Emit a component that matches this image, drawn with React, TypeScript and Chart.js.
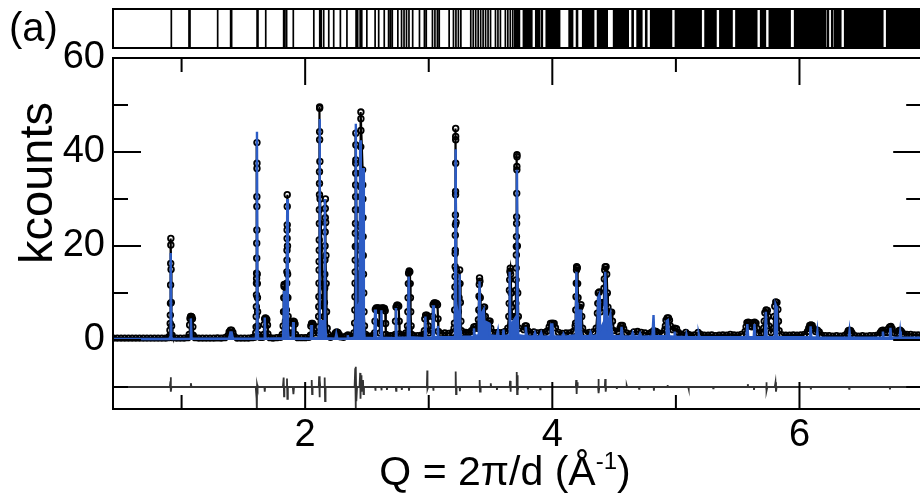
import React, { useEffect, useRef } from "react";
import { Chart, registerables } from "chart.js";

Chart.register(...registerables);

// ---- axes ----
const X_MIN = 0.445;
const X_MAX = 6.985;
const Y_MIN = -14.68;
const Y_MAX = 60;
const yMajorTicks = [0, 20, 40, 60];
const yMinorTicks = [-10, 10, 30, 50];
const xMajorTicks = [2, 4, 6];
const xMinorTicks = [1, 3, 5, 7];

// ---- observed intensities (Q in 1/Å, kcounts) ----
const observed: number[][] = [
  [0.45, 0.4], [0.48, 0.4], [0.51, 0.4], [0.54, 0.4], [0.57, 0.4], [0.6, 0.4], [0.63, 0.4], [0.66, 0.4], [0.69, 0.4], [0.72, 0.4], [0.75, 0.4], [0.78, 0.4], [0.81, 0.4], [0.84, 0.4], [0.87, 0.4], [0.895, 0.5],
  [0.902, 0.8], [0.906, 2.1], [0.908, 3.5], [0.909, 5.3], [0.91, 7.8], [0.911, 11.7], [0.912, 16.3], [0.913, 20.2], [0.913, 21.6], [0.915, 15], [0.917, 8], [0.919, 3], [0.923, 1],
  [0.93, 0.5], [0.96, 0.4], [0.99, 0.4], [1.02, 0.4], [1.05, 0.5],
  [1.062, 1.2], [1.065, 3.2], [1.068, 4.6], [1.073, 5.0], [1.078, 5.0], [1.083, 4.9], [1.088, 4.5], [1.091, 2.8], [1.094, 1.0],
  [1.11, 0.5], [1.14, 0.4], [1.17, 0.4], [1.2, 0.4], [1.23, 0.4], [1.26, 0.4], [1.29, 0.45], [1.32, 0.4], [1.35, 0.5],
  [1.375, 0.9], [1.385, 1.7], [1.395, 2.1], [1.405, 2.1], [1.415, 1.6], [1.425, 0.8],
  [1.45, 0.4], [1.48, 0.4], [1.51, 0.4], [1.54, 0.4], [1.57, 0.5], [1.59, 0.6],
  [1.6, 1.5], [1.603, 2.8], [1.604, 5.0], [1.605, 7.1], [1.606, 9.6], [1.606, 12.1], [1.607, 13.1], [1.607, 14.2], [1.608, 17.4], [1.608, 20.6], [1.609, 23.4], [1.609, 28.4], [1.609, 30.5], [1.61, 36.5], [1.61, 37.6], [1.61, 42.0], [1.612, 14], [1.613, 12], [1.614, 9], [1.615, 6], [1.617, 3], [1.62, 1.2],
  [1.635, 0.6], [1.655, 0.6],
  [1.665, 1.2], [1.668, 3.3], [1.672, 4.5], [1.678, 4.7], [1.684, 4.6], [1.69, 4.3], [1.695, 3.2], [1.698, 1.3],
  [1.715, 0.5], [1.74, 0.4], [1.77, 0.5], [1.8, 0.6], [1.815, 1.2],
  [1.822, 3], [1.825, 6], [1.827, 9], [1.829, 11.4], [1.83, 11.8], [1.833, 9], [1.836, 6], [1.84, 4],
  [1.848, 6.4], [1.85, 9.2], [1.851, 12.1], [1.852, 14.5], [1.853, 17.0], [1.853, 19.1], [1.854, 21.6], [1.854, 23.4], [1.855, 24.5], [1.855, 28.4], [1.855, 30.9], [1.857, 20], [1.858, 14], [1.86, 9], [1.862, 5], [1.865, 3.6], [1.87, 1.5],
  [1.895, 1.5], [1.899, 3.5], [1.905, 4.0], [1.912, 3.9], [1.918, 3.4], [1.922, 1.2],
  [1.94, 0.5], [1.97, 0.5], [2.0, 0.5], [2.03, 0.6],
  [2.043, 1.0], [2.046, 3.0], [2.052, 3.5], [2.06, 3.5], [2.066, 3.2], [2.07, 1.5],
  [2.105, 1.5], [2.108, 2.8], [2.109, 5.0], [2.11, 7.1], [2.111, 9.2], [2.112, 12.1], [2.113, 14.9], [2.113, 16.7], [2.114, 19.1], [2.114, 21.3], [2.115, 24.8], [2.115, 27.7], [2.116, 30.9], [2.116, 33.3], [2.116, 35.8], [2.117, 42.6], [2.117, 44.3], [2.117, 49.3], [2.117, 49.6], [2.119, 38], [2.121, 30],
  [2.15, 2], [2.154, 5], [2.156, 8], [2.158, 11], [2.159, 14], [2.16, 17], [2.161, 20], [2.162, 23], [2.163, 26], [2.163, 28], [2.164, 30], [2.166, 25], [2.168, 18], [2.17, 12], [2.173, 6], [2.178, 2.5], [2.188, 1.2],
  [2.205, 0.6], [2.23, 0.8],
  [2.24, 1.0], [2.245, 1.5], [2.255, 1.7], [2.265, 1.6], [2.275, 1.2], [2.285, 0.7],
  [2.31, 0.6], [2.33, 0.8], [2.346, 1.1], [2.36, 0.8], [2.38, 0.8], [2.395, 1.5],
  [2.4, 3.6], [2.402, 6.4], [2.403, 9.2], [2.404, 12.1], [2.405, 14.5], [2.405, 17.0], [2.406, 19.9], [2.406, 22.7], [2.407, 24.8], [2.407, 27.7], [2.408, 30.5], [2.408, 33.0], [2.409, 35.5], [2.409, 37.6], [2.41, 38.3], [2.41, 41.5], [2.41, 44.0],
  [2.418, 20], [2.424, 12], [2.43, 8], [2.436, 10], [2.441, 14],
  [2.445, 7.8], [2.446, 10.6], [2.446, 13.5], [2.447, 16.3], [2.447, 19.1], [2.448, 22.0], [2.448, 24.1], [2.449, 27.7], [2.449, 30.5], [2.45, 32.6], [2.45, 35.5], [2.45, 41.1], [2.451, 44.6], [2.451, 47.1], [2.451, 48.5],
  [2.465, 36.2], [2.466, 33], [2.467, 30], [2.468, 26], [2.469, 22], [2.47, 18], [2.472, 14], [2.474, 10], [2.476, 6], [2.48, 3], [2.49, 1.2],
  [2.5, 0.8], [2.52, 0.8], [2.545, 0.9],
  [2.562, 1.5], [2.565, 4], [2.568, 6.5], [2.575, 6.8], [2.585, 6.8], [2.595, 6.8], [2.6, 6.3], [2.603, 3.5], [2.606, 1.5], [2.612, 3.5], [2.615, 6.5], [2.622, 6.8], [2.632, 6.8], [2.642, 6.7], [2.648, 6.2], [2.651, 3.5], [2.654, 1.2],
  [2.67, 0.8], [2.69, 0.9], [2.71, 0.9],
  [2.728, 1.2], [2.731, 4], [2.735, 7], [2.742, 7.4], [2.75, 7.4], [2.757, 7.2], [2.761, 4], [2.764, 1.3],
  [2.78, 1.0], [2.8, 1.0], [2.815, 1.5],
  [2.828, 3], [2.831, 6], [2.833, 9], [2.835, 12], [2.837, 14.2], [2.842, 14.7], [2.847, 14.5], [2.85, 12], [2.852, 9], [2.854, 6], [2.857, 3], [2.862, 1.2],
  [2.88, 0.9], [2.91, 0.9], [2.94, 1.0], [2.96, 1.2],
  [2.965, 2], [2.968, 4.5], [2.975, 5.3], [2.985, 5.3], [2.993, 5.0], [2.997, 3], [3.0, 1.5],
  [3.028, 2], [3.031, 5], [3.035, 7.5], [3.043, 7.9], [3.053, 7.9], [3.063, 7.8], [3.071, 7.5], [3.075, 4.5], [3.078, 1.8],
  [3.1, 1.4], [3.13, 1.5], [3.16, 1.4], [3.19, 1.6], [3.205, 2.5],
  [3.208, 3.6], [3.21, 6.4], [3.211, 9.2], [3.212, 11.3], [3.213, 13.5], [3.214, 15.6], [3.214, 18.4], [3.215, 19.1], [3.215, 22.3], [3.216, 24.5], [3.216, 26.6], [3.217, 30.9], [3.217, 31.6], [3.218, 37.6], [3.218, 42.6], [3.218, 43.3], [3.218, 45.0], [3.221, 25], [3.223, 15],
  [3.24, 6], [3.245, 9], [3.248, 12], [3.25, 14.9], [3.253, 12], [3.256, 8], [3.26, 4], [3.265, 2],
  [3.28, 1.5], [3.3, 1.6], [3.32, 1.5], [3.34, 1.8],
  [3.355, 2.2], [3.365, 2.8], [3.38, 2.9], [3.392, 2.5],
  [3.402, 4.3], [3.405, 6.4], [3.407, 9.3], [3.409, 11.8], [3.411, 13.2], [3.414, 12.5], [3.417, 9], [3.42, 6],
  [3.44, 5], [3.445, 7], [3.452, 7], [3.458, 5], [3.465, 3],
  [3.482, 3], [3.488, 4], [3.496, 4], [3.502, 2.5],
  [3.52, 1.6], [3.54, 1.5], [3.56, 1.6], [3.58, 1.5], [3.6, 1.6], [3.62, 1.8], [3.64, 2.5],
  [3.648, 5.0], [3.651, 7.8], [3.653, 10.6], [3.655, 12.8], [3.657, 14.6], [3.66, 15.3], [3.663, 14], [3.667, 10], [3.67, 7], [3.675, 5],
  [3.703, 5.0], [3.705, 7.8], [3.706, 10.6], [3.707, 12.8], [3.708, 15.3], [3.709, 18.1], [3.709, 19.9], [3.71, 22.0], [3.711, 24.8], [3.711, 26.2], [3.712, 31.2], [3.713, 36.2], [3.713, 36.9], [3.714, 39.0], [3.714, 39.4], [3.717, 20], [3.72, 10], [3.725, 5], [3.73, 2.5],
  [3.77, 2.2], [3.78, 3], [3.79, 3], [3.8, 2],
  [3.82, 1.6], [3.85, 1.7], [3.88, 1.5], [3.91, 1.6], [3.94, 1.6], [3.96, 1.9],
  [3.975, 2.8], [3.985, 3.5], [4.0, 3.6], [4.015, 3.5], [4.025, 2.6],
  [4.05, 1.6], [4.08, 1.4], [4.11, 1.5], [4.14, 1.5], [4.17, 1.8], [4.185, 3],
  [4.188, 3.6], [4.19, 6.4], [4.192, 9.2], [4.194, 12.1], [4.196, 14.9], [4.197, 15.6], [4.199, 15.5], [4.202, 15.3], [4.205, 12], [4.208, 9],
  [4.22, 5], [4.225, 7], [4.232, 7.5], [4.238, 5], [4.245, 2.5],
  [4.27, 1.5], [4.3, 1.6], [4.33, 1.7], [4.355, 2.5],
  [4.365, 5.7], [4.368, 7.8], [4.372, 10], [4.38, 10.2], [4.386, 8], [4.39, 6],
  [4.414, 8], [4.418, 11], [4.421, 13], [4.424, 14.9], [4.428, 15.6], [4.435, 15.6], [4.44, 14], [4.445, 10], [4.45, 7],
  [4.465, 5], [4.47, 5.9], [4.48, 5.9], [4.487, 4],
  [4.5, 2], [4.53, 1.8],
  [4.548, 2.5], [4.555, 3.1], [4.568, 3.1], [4.577, 2.4],
  [4.6, 1.5], [4.63, 1.3], [4.66, 1.7], [4.69, 1.8], [4.72, 1.6], [4.75, 1.5], [4.78, 1.3], [4.8, 1.6], [4.82, 2.0], [4.84, 1.8], [4.86, 1.5], [4.89, 1.4], [4.91, 2.2],
  [4.915, 3], [4.92, 4.2], [4.93, 4.7], [4.94, 4.7], [4.948, 4.2], [4.955, 3],
  [4.975, 2.2], [4.99, 2.5], [5.005, 2.4], [5.02, 1.6],
  [5.04, 1.2], [5.06, 1.1], [5.08, 1.6], [5.1, 1.2], [5.12, 1.0], [5.15, 1.1], [5.18, 1.6], [5.2, 1.2], [5.23, 1.0], [5.26, 1.0], [5.29, 1.1], [5.32, 0.9], [5.35, 1.0], [5.38, 1.1], [5.41, 1.0], [5.44, 1.2], [5.47, 1.1], [5.5, 1.0], [5.53, 1.2], [5.56, 1.8],
  [5.568, 2.8], [5.575, 3.7], [5.585, 3.8], [5.595, 3.7], [5.605, 3.0], [5.615, 2.8], [5.625, 3.7], [5.637, 3.8], [5.648, 3.6], [5.655, 2.5],
  [5.67, 1.4], [5.69, 1.5], [5.71, 2.5],
  [5.715, 4], [5.72, 5.8], [5.73, 6.4], [5.74, 6.3], [5.747, 5], [5.752, 3],
  [5.77, 1.6], [5.79, 2.5],
  [5.795, 5], [5.8, 7.2], [5.808, 8.1], [5.818, 8.0], [5.825, 6.5], [5.83, 4], [5.835, 2],
  [5.86, 1.1], [5.89, 1.0], [5.92, 1.0], [5.95, 1.1], [5.98, 1.0], [6.01, 1.1], [6.04, 1.2], [6.065, 1.8],
  [6.075, 2.5], [6.083, 3.1], [6.093, 3.2], [6.103, 3.1], [6.112, 2.5],
  [6.13, 1.8], [6.145, 2.1], [6.16, 1.7],
  [6.18, 1.0], [6.21, 0.9], [6.24, 0.9], [6.27, 0.8], [6.3, 0.9], [6.33, 0.8], [6.36, 0.9], [6.385, 1.4],
  [6.395, 2], [6.405, 2.1], [6.415, 2.0], [6.425, 1.5],
  [6.45, 0.9], [6.48, 0.8], [6.51, 0.9], [6.54, 0.8], [6.57, 0.9], [6.6, 0.9], [6.63, 1.0], [6.655, 1.6],
  [6.665, 2], [6.675, 2.1], [6.69, 1.6], [6.71, 1.6], [6.72, 2.4], [6.73, 2.8], [6.74, 2.9], [6.75, 2.4], [6.77, 1.5], [6.79, 1.4], [6.805, 2], [6.815, 2.1], [6.825, 1.8], [6.845, 1.3], [6.87, 1.2], [6.9, 1.2], [6.93, 1.1], [6.96, 1.1], [6.99, 1.0],
];

// ---- calculated profile ----
const calculated: number[][] = [
  [0.445, 0.2], [0.9, 0.2], [0.907, 0.6], [0.912, 18.5], [0.917, 0.6], [0.925, 0.2],
  [1.07, 0.25], [1.075, 4.6], [1.081, 0.3],
  [1.385, 0.3], [1.395, 1.6], [1.405, 1.6], [1.415, 0.3],
  [1.6, 0.3], [1.605, 2], [1.61, 44.3], [1.615, 2], [1.62, 0.3],
  [1.668, 0.3], [1.673, 4.8], [1.678, 0.5], [1.685, 0.3],
  [1.82, 0.4], [1.825, 3], [1.829, 10.5], [1.833, 3], [1.85, 2], [1.855, 30], [1.86, 2], [1.866, 0.4],
  [1.898, 0.3], [1.903, 3.8], [1.908, 0.4],
  [2.046, 0.3], [2.05, 3.2], [2.055, 0.4],
  [2.108, 0.4], [2.112, 3], [2.116, 47], [2.12, 4], [2.155, 4], [2.159, 30], [2.163, 3], [2.17, 0.4],
  [2.245, 0.3], [2.252, 1.3], [2.26, 0.3],
  [2.34, 0.3], [2.345, 1], [2.35, 0.3],
  [2.4, 0.5], [2.405, 4], [2.41, 46], [2.415, 6], [2.44, 8], [2.445, 42.5], [2.45, 10], [2.465, 8], [2.47, 36.6], [2.475, 4], [2.48, 0.5],
  [2.56, 0.4], [2.566, 6.5], [2.572, 0.5], [2.612, 0.5], [2.617, 6.3], [2.622, 0.5],
  [2.73, 0.4], [2.735, 6.8], [2.74, 0.5],
  [2.83, 0.5], [2.838, 13.5], [2.846, 0.6],
  [2.968, 0.4], [2.973, 5], [2.978, 0.5],
  [3.03, 0.5], [3.036, 7.4], [3.042, 0.6], [3.07, 0.6], [3.074, 3], [3.078, 0.6],
  [3.205, 0.6], [3.212, 5], [3.218, 40.6], [3.222, 8], [3.245, 3], [3.25, 14], [3.255, 2], [3.26, 0.7],
  [3.36, 0.7], [3.366, 2.5], [3.372, 0.8], [3.4, 1], [3.405, 5], [3.411, 12.5], [3.416, 5], [3.445, 6.5], [3.45, 4], [3.49, 3.5], [3.495, 1],
  [3.55, 0.8], [3.56, 2], [3.565, 0.8], [3.6, 0.8], [3.605, 2.2], [3.61, 0.8],
  [3.65, 1], [3.655, 14.5], [3.66, 3], [3.708, 5], [3.714, 36.2], [3.72, 5], [3.725, 1],
  [3.78, 0.8], [3.785, 2.8], [3.79, 1.5], [3.8, 0.8],
  [3.85, 0.7], [3.86, 1.5], [3.87, 0.7], [3.9, 0.8], [3.91, 1.5], [3.92, 0.7],
  [3.985, 0.8], [3.99, 3.3], [4.0, 3.3], [4.01, 0.8],
  [4.08, 0.7], [4.09, 1.3], [4.1, 0.7],
  [4.19, 1], [4.195, 14.5], [4.2, 8], [4.205, 2], [4.225, 6.5], [4.232, 2], [4.24, 0.8],
  [4.3, 0.8], [4.31, 1.6], [4.32, 0.8],
  [4.365, 1], [4.37, 9], [4.378, 9.5], [4.385, 2], [4.42, 4], [4.428, 14.5], [4.435, 10], [4.445, 3], [4.47, 5.5], [4.48, 2], [4.49, 0.8],
  [4.555, 0.8], [4.56, 2.8], [4.57, 0.8],
  [4.64, 0.7], [4.65, 1.5], [4.66, 0.7], [4.7, 0.8], [4.71, 1.4], [4.72, 0.7],
  [4.81, 0.8], [4.819, 5.3], [4.825, 0.8],
  [4.92, 0.8], [4.925, 4], [4.935, 4.2], [4.945, 0.8], [4.985, 0.7], [4.99, 1.8], [4.995, 0.7],
  [5.08, 0.6], [5.085, 1.2], [5.09, 0.6], [5.18, 0.6], [5.185, 1.2], [5.19, 0.6],
  [5.57, 0.6], [5.578, 3.4], [5.585, 0.6], [5.63, 0.6], [5.636, 3.4], [5.642, 0.6],
  [5.72, 0.6], [5.728, 6], [5.735, 0.6], [5.8, 0.6], [5.806, 7.6], [5.812, 7.2], [5.818, 0.6],
  [6.085, 0.6], [6.09, 2.9], [6.096, 0.6], [6.14, 0.5], [6.145, 1.8], [6.15, 0.5],
  [6.4, 0.5], [6.405, 1.8], [6.41, 0.5],
  [6.67, 0.5], [6.675, 1.8], [6.68, 0.5], [6.73, 0.5], [6.736, 2.6], [6.742, 0.5], [6.81, 0.5], [6.815, 1.8], [6.82, 0.5], [6.99, 0.5],
];

// ---- difference curve (plotted with its -10 kcounts offset) ----
const difference: number[][] = [
  [0.445, -10], [0.905, -10], [0.91, -8.8], [0.912, -7.9], [0.914, -11], [0.918, -10],
  [1.07, -10], [1.075, -9.2], [1.08, -10],
  [1.6, -10], [1.607, -12.5], [1.609, -15.3], [1.611, -9.5], [1.615, -10],
  [1.67, -10], [1.673, -11], [1.676, -10],
  [1.82, -10], [1.826, -8], [1.829, -12], [1.832, -10], [1.85, -10], [1.853, -8.2], [1.856, -12.5], [1.86, -10],
  [1.9, -10], [1.905, -11.5], [1.91, -10],
  [2.05, -10], [2.053, -8.5], [2.056, -11.5], [2.06, -10],
  [2.11, -10], [2.113, -7.7], [2.116, -12.2], [2.119, -8.5], [2.122, -10],
  [2.155, -10], [2.158, -8], [2.161, -13], [2.165, -10],
  [2.4, -10], [2.405, -6], [2.408, -14.5], [2.411, -5.7], [2.414, -13], [2.42, -10], [2.44, -10], [2.445, -7], [2.448, -12.5], [2.452, -7.5], [2.456, -11], [2.46, -10], [2.468, -8.5], [2.472, -11.5], [2.476, -10],
  [2.566, -10], [2.568, -10.8], [2.571, -10], [2.615, -10], [2.617, -10.7], [2.62, -10], [2.66, -10], [2.662, -10.6], [2.665, -10],
  [2.733, -10], [2.736, -10.8], [2.739, -10], [2.78, -10], [2.782, -10.6], [2.785, -10], [2.838, -10], [2.84, -10.8], [2.843, -10],
  [2.985, -10], [2.988, -6.5], [2.99, -10.4], [2.995, -10],
  [3.035, -10], [3.037, -10.8], [3.04, -10],
  [3.215, -10], [3.218, -6.7], [3.221, -11.5], [3.225, -10],
  [3.25, -10], [3.252, -10.9], [3.255, -10],
  [3.41, -10], [3.412, -8.5], [3.415, -11], [3.42, -10],
  [3.5, -10], [3.502, -9.2], [3.505, -10], [3.55, -10], [3.552, -10.6], [3.555, -10],
  [3.655, -10], [3.658, -8.7], [3.661, -11], [3.665, -10],
  [3.71, -10], [3.712, -6.8], [3.715, -11.5], [3.718, -7.5], [3.721, -10.8], [3.725, -10],
  [3.8, -10], [3.802, -10.5], [3.805, -10], [3.9, -10], [3.902, -10.5], [3.905, -10],
  [4.19, -10], [4.193, -8.5], [4.197, -11.5], [4.2, -9], [4.205, -10],
  [4.37, -10], [4.373, -8.3], [4.376, -11.3], [4.38, -10], [4.425, -10], [4.428, -8.3], [4.432, -11], [4.436, -10],
  [4.52, -10], [4.522, -10.4], [4.525, -10], [4.6, -10], [4.602, -9.7], [4.605, -10], [4.7, -10], [4.702, -10.4], [4.705, -10],
  [4.82, -10], [4.822, -10.8], [4.825, -10], [4.93, -10], [4.932, -9.6], [4.935, -10],
  [5.1, -10], [5.102, -10.4], [5.105, -10], [5.3, -10], [5.302, -10.3], [5.305, -10],
  [5.58, -10], [5.582, -9.4], [5.585, -10], [5.63, -10], [5.632, -10.6], [5.635, -10],
  [5.73, -10], [5.732, -9], [5.735, -10.8], [5.74, -10], [5.8, -10], [5.806, -9], [5.81, -11], [5.815, -10],
  [6.09, -10], [6.092, -10.5], [6.095, -10], [6.4, -10], [6.402, -10.4], [6.405, -10],
  [6.73, -10], [6.732, -10.5], [6.735, -10], [6.99, -10],
];

// ---- Bragg reflection positions (Q) ----
const braggSparse: number[] = [
  0.917, 1.06, 1.068, 1.292, 1.397, 1.405, 1.611, 1.618, 1.681, 1.826, 1.835, 1.85, 1.904,
  2.07, 2.118, 2.13, 2.15, 2.191, 2.231, 2.285, 2.338, 2.412, 2.425, 2.445, 2.458, 2.499, 2.566,
  2.595, 2.64, 2.675, 2.69, 2.705, 2.75, 2.78, 2.8, 2.82, 2.84, 2.87, 2.925, 2.965, 2.98,
  3.03, 3.05, 3.07, 3.085, 3.165, 3.2, 3.22, 3.24, 3.26, 3.34, 3.36, 3.38, 3.4, 3.42, 3.44,
  3.46, 3.48, 3.5, 3.54, 3.56, 3.58, 3.62, 3.64, 3.66, 3.68,
];
const braggDense: number[] = [
  3.7, 3.72, 3.73, 3.77, 3.79, 3.81, 3.83, 3.87, 3.89, 3.915, 3.955, 3.975, 3.995, 4.015, 4.035, 4.055,
  4.14, 4.16, 4.2, 4.25, 4.27, 4.29, 4.31, 4.33, 4.37, 4.39, 4.41, 4.43, 4.44, 4.5, 4.52, 4.54, 4.56,
  4.58, 4.6, 4.61, 4.65, 4.69, 4.71, 4.72, 4.76, 4.8, 4.82, 4.84, 4.86, 4.88, 4.9, 4.92, 4.94, 4.96,
  5.0, 5.02, 5.04, 5.06, 5.08, 5.1, 5.12, 5.14, 5.16, 5.18, 5.2, 5.24, 5.26, 5.28, 5.3, 5.32, 5.36,
  5.38, 5.4, 5.42, 5.44, 5.45, 5.49, 5.51, 5.53, 5.55, 5.57, 5.59, 5.61, 5.63, 5.65, 5.69, 5.71, 5.72,
  5.76, 5.78, 5.8, 5.82, 5.84, 5.86, 5.88, 5.9, 5.92, 5.965, 5.985, 6.005, 6.025, 6.045, 6.065, 6.085,
  6.105, 6.125, 6.145, 6.165, 6.185, 6.205, 6.23, 6.265, 6.29, 6.31, 6.33, 6.37, 6.39, 6.41, 6.43,
  6.45, 6.47, 6.49, 6.51, 6.53, 6.55, 6.57, 6.59, 6.61, 6.63, 6.65, 6.67, 6.71, 6.73, 6.75, 6.77,
  6.79, 6.81, 6.83, 6.85, 6.87, 6.89, 6.91, 6.93, 6.95, 6.97, 6.99,
];

const FONT = "'Liberation Sans', Arial, Helvetica, sans-serif";
const BLUE = "#2c5cc5";

const toXY = (rows: number[][]) => rows.map(([x, y]) => ({ x, y }));

const decorPlugin = {
  id: "decor",
  afterDraw(chart: any) {
    const { ctx, chartArea: a, scales } = chart;
    const xs = scales.x;
    const ys = scales.y;
    ctx.save();
    ctx.strokeStyle = "#000";
    ctx.lineWidth = 2;
    ctx.strokeRect(a.left, a.top, a.right - a.left, a.bottom - a.top);
    const xTick = (v: number, len: number) => {
      const p = xs.getPixelForValue(v);
      ctx.beginPath();
      ctx.moveTo(p, a.bottom);
      ctx.lineTo(p, a.bottom - len);
      ctx.moveTo(p, a.top);
      ctx.lineTo(p, a.top + len);
      ctx.stroke();
    };
    xMajorTicks.forEach((v) => xTick(v, 27));
    xMinorTicks.forEach((v) => xTick(v, 14));
    const yTick = (v: number, len: number) => {
      const p = ys.getPixelForValue(v);
      ctx.beginPath();
      ctx.moveTo(a.left, p);
      ctx.lineTo(a.left + len, p);
      ctx.moveTo(a.right, p);
      ctx.lineTo(a.right - len, p);
      ctx.stroke();
    };
    yMajorTicks.forEach((v) => yTick(v, 28));
    yMinorTicks.forEach((v) => yTick(v, 15));

    // Bragg reflection panel
    const top = 9;
    const bot = 48;
    ctx.lineWidth = 2;
    ctx.strokeRect(a.left, top, a.right - a.left, bot - top);
    ctx.save();
    ctx.beginPath();
    ctx.rect(a.left, top, a.right - a.left, bot - top);
    ctx.clip();
    ctx.lineWidth = 1.7;
    ctx.beginPath();
    braggSparse.forEach((q) => {
      const p = xs.getPixelForValue(q);
      ctx.moveTo(p, top);
      ctx.lineTo(p, bot);
    });
    ctx.stroke();
    ctx.lineWidth = 2.6;
    ctx.beginPath();
    braggDense.forEach((q) => {
      const p = xs.getPixelForValue(q);
      ctx.moveTo(p, top);
      ctx.lineTo(p, bot);
    });
    ctx.stroke();
    ctx.restore();

    // texts
    ctx.fillStyle = "#000";
    ctx.font = `40px ${FONT}`;
    ctx.textAlign = "left";
    ctx.textBaseline = "alphabetic";
    ctx.fillText("(a)", 9, 41);

    ctx.save();
    ctx.translate(52, 183);
    ctx.rotate(-Math.PI / 2);
    ctx.font = `47px ${FONT}`;
    ctx.textAlign = "center";
    ctx.fillText("kcounts", 0, 0);
    ctx.restore();

    const big = `41px ${FONT}`;
    const small = `24px ${FONT}`;
    const p1 = "Q = 2\u03c0/d (\u00c5";
    const p2 = "-1";
    const p3 = ")";
    ctx.font = big;
    const w1 = ctx.measureText(p1).width;
    const w3 = ctx.measureText(p3).width;
    ctx.font = small;
    const w2 = ctx.measureText(p2).width;
    const total = w1 + w2 + w3;
    let x0 = 505 - total / 2;
    const base = 485;
    ctx.textAlign = "left";
    ctx.font = big;
    ctx.fillText(p1, x0, base);
    x0 += w1;
    ctx.font = small;
    ctx.fillText(p2, x0, base - 16);
    x0 += w2;
    ctx.font = big;
    ctx.fillText(p3, x0, base);
    ctx.restore();
  },
};

export default function App() {
  const ref = useRef<HTMLCanvasElement>(null);
  useEffect(() => {
    if (!ref.current) return;
    const chart = new Chart(ref.current, {
      type: "scatter",
      data: {
        datasets: [
          {
            label: "calc",
            data: toXY(calculated),
            showLine: true,
            borderColor: BLUE,
            backgroundColor: BLUE,
            borderWidth: 2.4,
            pointRadius: 0,
            fill: "origin",
            order: 0,
          },
          {
            label: "obs",
            data: toXY(observed),
            showLine: true,
            borderColor: "#000",
            borderWidth: 2.2,
            pointStyle: "circle",
            pointRadius: 2.8,
            pointBorderWidth: 1.8,
            pointBorderColor: "#000",
            pointBackgroundColor: "rgba(255,255,255,0)",
            fill: false,
            order: 1,
          },
          {
            label: "diff",
            data: toXY(difference),
            showLine: true,
            borderColor: "#333",
            borderWidth: 1.8,
            pointRadius: 0,
            fill: false,
            order: 2,
          },
        ],
      } as any,
      options: {
        responsive: false,
        animation: false,
        events: [],
        layout: { padding: { top: 58, right: 1, left: 0, bottom: 0 } },
        plugins: { legend: { display: false }, tooltip: { enabled: false } },
        scales: {
          x: {
            type: "linear",
            min: X_MIN,
            max: X_MAX,
            grid: { display: false, drawTicks: false },
            border: { display: false },
            ticks: {
              color: "#000",
              font: { family: FONT, size: 38 },
              padding: 4,
              maxRotation: 0,
              autoSkip: false,
            },
            afterBuildTicks: (s: any) => {
              s.ticks = xMajorTicks.map((v) => ({ value: v }));
            },
            afterFit: (s: any) => {
              s.height = 86;
            },
          },
          y: {
            type: "linear",
            min: Y_MIN,
            max: Y_MAX,
            grid: { display: false, drawTicks: false },
            border: { display: false },
            ticks: {
              color: "#000",
              font: { family: FONT, size: 38 },
              padding: 8,
              autoSkip: false,
            },
            afterBuildTicks: (s: any) => {
              s.ticks = yMajorTicks.map((v) => ({ value: v }));
            },
            afterFit: (s: any) => {
              s.width = 113;
            },
          },
        },
      } as any,
      plugins: [decorPlugin],
    });
    return () => chart.destroy();
  }, []);

  return (
    <div
      style={{
        position: "absolute",
        left: 0,
        top: 0,
        width: 920,
        height: 495,
        overflow: "hidden",
        background: "#fff",
      }}
    >
      <canvas ref={ref} width={927} height={495} style={{ display: "block" }} />
    </div>
  );
}
